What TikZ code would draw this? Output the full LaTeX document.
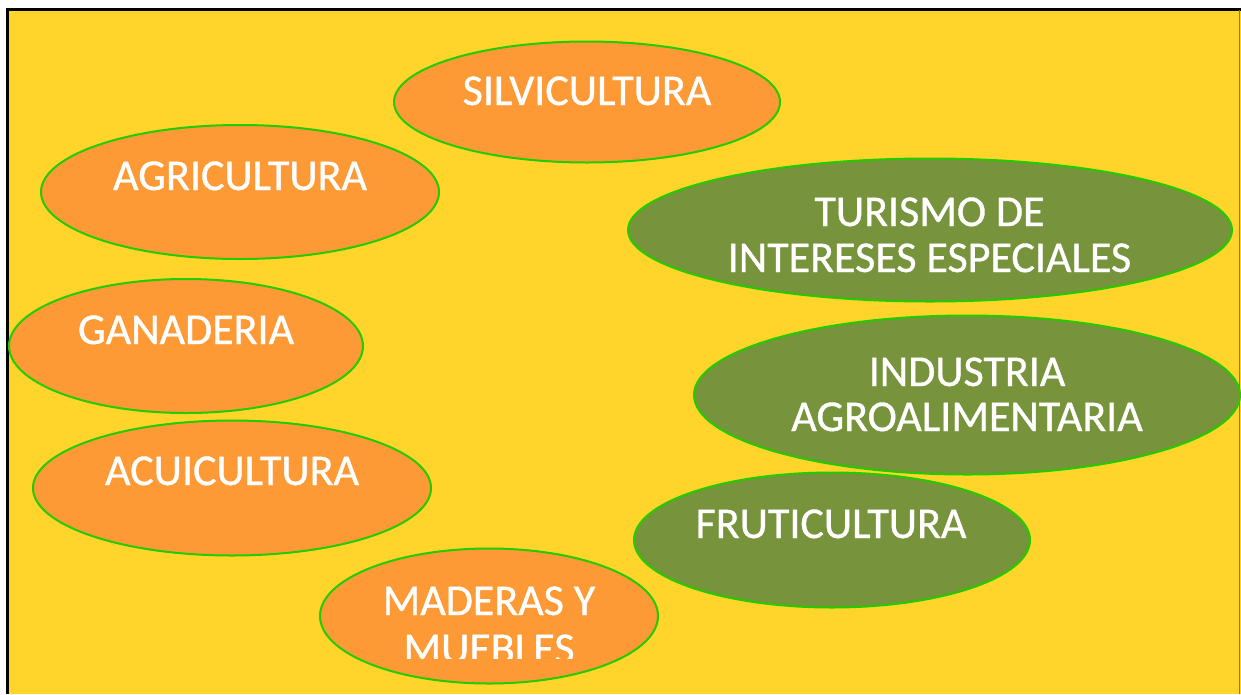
\documentclass[tikz,border=0pt]{standalone}
\usepackage{fontspec}
\setmainfont{Carlito}[FakeBold=0.8]
\usetikzlibrary{shapes.geometric}
\definecolor{bgyellow}{HTML}{FFD52B}
\definecolor{orangefill}{HTML}{FE9A35}
\definecolor{olivefill}{HTML}{77933C}
\definecolor{rimgreen}{HTML}{22CC00}
\definecolor{rightedge}{HTML}{8A7A20}
\tikzset{
  blob/.style={ellipse, draw=rimgreen, line width=2pt, inner sep=0pt, outer sep=0pt},
  orangeblob/.style={blob, fill=orangefill},
  oliveblob/.style={blob, fill=olivefill},
  lbl/.style={text=white, font=\fontsize{44}{46}\selectfont, align=center, inner sep=0pt, anchor=base}
}
\begin{document}
\begin{tikzpicture}[x=1pt,y=-1pt]
\useasboundingbox (0,0) rectangle (1241,694);
\fill[bgyellow] (7,9) rectangle (1241,694);
\draw[black, line width=3pt] (7,694) -- (7,9) -- (1241,9);
\draw[rightedge, line width=1.2pt] (1239.5,10) -- (1239.5,694);

% ellipses
\node[orangeblob, minimum width=386pt, minimum height=121pt] (silv) at (587,102) {};
\node[orangeblob, minimum width=398pt, minimum height=134pt] (agri) at (240,192) {};
\node[oliveblob, minimum width=604pt, minimum height=143pt] (tur) at (930,230) {};
\node[orangeblob, minimum width=354pt, minimum height=134pt] (gan) at (186,346) {};
\node[oliveblob, minimum width=546pt, minimum height=159pt] (ind) at (967,395) {};
\node[orangeblob, minimum width=398pt, minimum height=135pt] (acu) at (232,488) {};
\node[oliveblob, minimum width=396pt, minimum height=135pt] (fru) at (832,540) {};
\node[orangeblob, minimum width=338pt, minimum height=135pt] (mad) at (489,616) {};

% labels (base anchor = baseline of the last line)
\node[lbl] (silvt) at (587,105) {SILVICULTURA};
\node[lbl] (agrit) at (240,190) {AGRICULTURA};
\node[lbl, font=\fontsize{44}{46}\selectfont] (turt) at (929.5,272) {TURISMO DE\\INTERESES ESPECIALES};
\node[lbl] (gant) at (186,344) {GANADERIA};
\node[lbl, font=\fontsize{44}{45}\selectfont] (indt) at (967,431) {INDUSTRIA\\AGROALIMENTARIA};
\node[lbl] (acut) at (232,485) {ACUICULTURA};
\node[lbl] (frut) at (831,538) {FRUTICULTURA};
\begin{scope}
\clip (300,540) rectangle (700,658);
\node[lbl, font=\fontsize{44}{48}\selectfont] (madt) at (489,663) {MADERAS Y\\MUEBLES};
\end{scope}
\end{tikzpicture}
\end{document}
